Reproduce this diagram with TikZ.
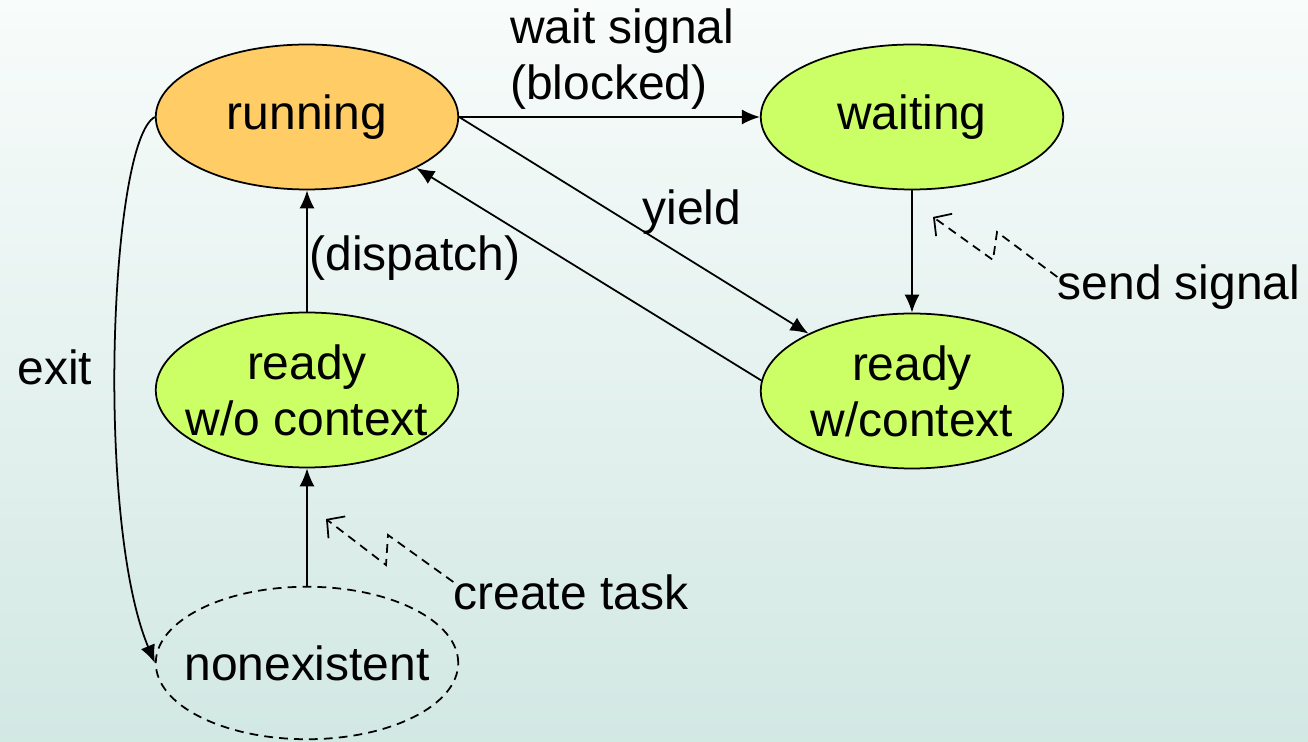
\documentclass[tikz,border=0pt]{standalone}
\usepackage{fontspec}
\setmainfont{Liberation Sans}
\usetikzlibrary{shapes.geometric,arrows.meta}
\definecolor{runorange}{HTML}{FFCC66}
\definecolor{stategreen}{HTML}{CCFF66}
\definecolor{bgtop}{HTML}{F8FCFB}
\definecolor{bgbot}{HTML}{D2E8E3}
\tikzset{
  state/.style={ellipse,draw,line width=1pt,minimum width=6.05cm,minimum height=2.9cm,inner xsep=-1.5cm,inner ysep=0pt,align=center},
  trans/.style={line width=1pt,-{Latex[length=0.36cm,width=0.3cm]}},
  signal/.style={dash pattern=on 5pt off 3.5pt,line width=1pt,-{Straight Barb[length=0.25cm,width=0.55cm]}},
  lbl/.style={inner sep=0pt,align=left}
}
\begin{document}
\begin{tikzpicture}[x=0.02cm,y=-0.02cm,font=\fontsize{27.3}{32}\selectfont]
\shade[top color=bgtop,bottom color=bgbot] (0,0) rectangle (1308,742);
\useasboundingbox (0,0) rectangle (1308,742);
% states
\node[state,fill=runorange] (running) at (307,117) {running};
\node[state,fill=stategreen] (waiting) at (912,117) {waiting};
\node[state,fill=stategreen,minimum height=3.1cm] (rdyo) at (307,390) {ready\\w/o context};
\node[state,fill=stategreen,minimum height=3.1cm] (rdyc) at (912,391) {ready\\w/context};
\node[state,dash pattern=on 5pt off 3.5pt,minimum height=3.05cm] (nonex) at (307,663) {nonexistent};
% transitions
\draw[trans] (running.east) -- (waiting.west);
\draw[trans] (running.east) -- (rdyc.151);
\draw[trans] (rdyc.176) -- (running.-25);
\draw[trans] (waiting.south) -- (rdyc.north);
\draw[trans] (rdyo.north) -- (running.south);
\draw[trans] (nonex.north) -- (rdyo.south);
\draw[trans] (running.west) .. controls (110,140) and (95,520) .. (nonex.west);
% labels
\node[lbl,anchor=west] (waitlbl) at (510,59) {wait signal\\(blocked)};
\node[lbl] (yieldlbl) at (692,212) {yield};
\node[lbl] (displbl) at (415,258) {(dispatch)};
\node[lbl] (exitlbl) at (55,367) {exit};
\node[lbl] (send) at (1179,287) {send signal};
\node[lbl] (create) at (571,592) {create task};
% signals
\draw[signal] ([yshift=0.2cm]send.west) -- (997,232) -- (993,260) -- (933,217);
\draw[signal] ([yshift=0.2cm]create.west) -- (388,535) -- (386,565) -- (326,519);
\end{tikzpicture}
\end{document}
